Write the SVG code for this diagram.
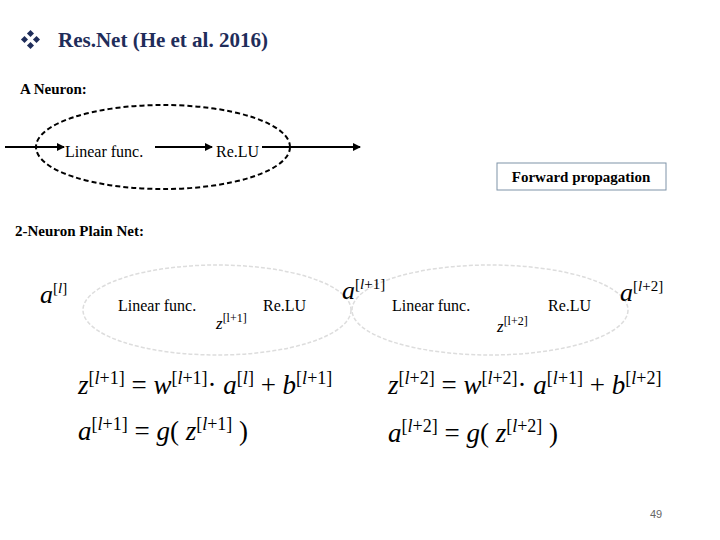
<svg xmlns="http://www.w3.org/2000/svg" width="720" height="540" viewBox="0 0 720 540">
<style>
text{font-family:"Liberation Serif","DejaVu Serif","Times New Roman",serif;fill:#000}
.b{font-weight:bold;font-size:15px}
.lab{font-size:16px}
.m{font-size:27px}
.s{font-size:18px}
.i{font-style:italic}
</style>
<defs>
<marker id="ah" markerWidth="8" markerHeight="8" refX="7" refY="4" orient="auto" markerUnits="userSpaceOnUse"><path d="M0,0 L8,4 L0,8 z" fill="#000"/></marker>
</defs>
<rect width="720" height="540" fill="#fff"/>
<g id="title">
<g fill="#1F2D5A" transform="translate(31,40)"><rect x="-3" y="-9" width="5" height="5" transform="rotate(45 -0.5 -6.5)"/><rect x="-3" y="3" width="5" height="5" transform="rotate(45 -0.5 5.5)"/><rect x="-9" y="-3" width="5" height="5" transform="rotate(45 -6.5 -0.5)"/><rect x="3" y="-3" width="5" height="5" transform="rotate(45 5.5 -0.5)"/></g>
<text x="58" y="47" style="font-size:21px;font-weight:bold;fill:#1F2D5A">Res.Net (He et al. 2016)</text>
</g>
<text class="b" x="20" y="94">A Neuron:</text>
<g id="connectors">
<line x1="5" y1="147" x2="64" y2="147" stroke="#000" stroke-width="2" marker-end="url(#ah)"/>
<line x1="155" y1="147" x2="212" y2="147" stroke="#000" stroke-width="2" marker-end="url(#ah)"/>
<line x1="262" y1="147" x2="360" y2="147" stroke="#000" stroke-width="2" marker-end="url(#ah)"/>
</g>
<g id="neuron">
<ellipse cx="163" cy="147" rx="127" ry="42" fill="none" stroke="#000" stroke-width="2" stroke-dasharray="5,3"/>
<text class="lab" x="65" y="157">Linear func.</text>
<text class="lab" x="216" y="157">Re.LU</text>
</g>
<g id="fp"><rect x="497" y="163" width="169" height="27" fill="#fff" stroke="#7F93A8"/><text class="b" x="581" y="182" text-anchor="middle">Forward propagation</text></g>
<text class="b" x="15" y="236">2-Neuron Plain Net:</text>
<g id="neuron1">
<ellipse cx="217" cy="310" rx="134" ry="45" fill="none" stroke="#ddd" stroke-width="1.5" stroke-dasharray="4,2"/>
<text class="lab" x="118" y="311">Linear func.</text>
<text class="lab" x="263" y="311">Re.LU</text>
</g>
<g id="neuron2">
<ellipse cx="490" cy="310" rx="138" ry="45" fill="none" stroke="#ddd" stroke-width="1.5" stroke-dasharray="4,2"/>
<text class="lab" x="392" y="311">Linear func.</text>
<text class="lab" x="548" y="311">Re.LU</text>
</g>
<g id="labels">
<text x="40" y="303" style="font-size:26px" class="i">a<tspan style="font-size:15px;font-style:normal" dy="-10">[<tspan class="i">l</tspan>]</tspan></text>
<text x="216" y="329" style="font-size:17px" class="i">z<tspan style="font-size:12px;font-style:normal" dy="-7">[l+1]</tspan></text>
<text x="342" y="299" style="font-size:26px" class="i">a<tspan style="font-size:15px;font-style:normal" dy="-10">[<tspan class="i">l</tspan>+1]</tspan></text>
<text x="497" y="332" style="font-size:17px" class="i">z<tspan style="font-size:12px;font-style:normal" dy="-7">[l+2]</tspan></text>
<text x="620" y="301" style="font-size:26px" class="i">a<tspan style="font-size:15px;font-style:normal" dy="-10">[<tspan class="i">l</tspan>+2]</tspan></text>
</g>
<g id="equations" class="m">
<text x="78" y="394"><tspan class="i">z</tspan><tspan class="s" dy="-10">[<tspan class="i">l</tspan>+1]</tspan><tspan dy="10"> = </tspan><tspan class="i">w</tspan><tspan class="s" dy="-10">[<tspan class="i">l</tspan>+1]</tspan><tspan dy="10">· </tspan><tspan class="i">a</tspan><tspan class="s" dy="-10">[<tspan class="i">l</tspan>]</tspan><tspan dy="10"> + </tspan><tspan class="i">b</tspan><tspan class="s" dy="-10">[<tspan class="i">l</tspan>+1]</tspan></text>
<text x="388" y="394"><tspan class="i">z</tspan><tspan class="s" dy="-10">[<tspan class="i">l</tspan>+2]</tspan><tspan dy="10"> = </tspan><tspan class="i">w</tspan><tspan class="s" dy="-10">[<tspan class="i">l</tspan>+2]</tspan><tspan dy="10">· </tspan><tspan class="i">a</tspan><tspan class="s" dy="-10">[<tspan class="i">l</tspan>+1]</tspan><tspan dy="10"> + </tspan><tspan class="i">b</tspan><tspan class="s" dy="-10">[<tspan class="i">l</tspan>+2]</tspan></text>
<text x="78" y="440"><tspan class="i">a</tspan><tspan class="s" dy="-10">[<tspan class="i">l</tspan>+1]</tspan><tspan dy="10"> = </tspan><tspan class="i">g</tspan><tspan>( </tspan><tspan class="i">z</tspan><tspan class="s" dy="-10">[<tspan class="i">l</tspan>+1]</tspan><tspan dy="10"> )</tspan></text>
<text x="388" y="442"><tspan class="i">a</tspan><tspan class="s" dy="-10">[<tspan class="i">l</tspan>+2]</tspan><tspan dy="10"> = </tspan><tspan class="i">g</tspan><tspan>( </tspan><tspan class="i">z</tspan><tspan class="s" dy="-10">[<tspan class="i">l</tspan>+2]</tspan><tspan dy="10"> )</tspan></text>
</g>
<text x="650" y="518" style="font-size:11px;fill:#666;font-family:'Liberation Sans',Arial,sans-serif">49</text>
</svg>
